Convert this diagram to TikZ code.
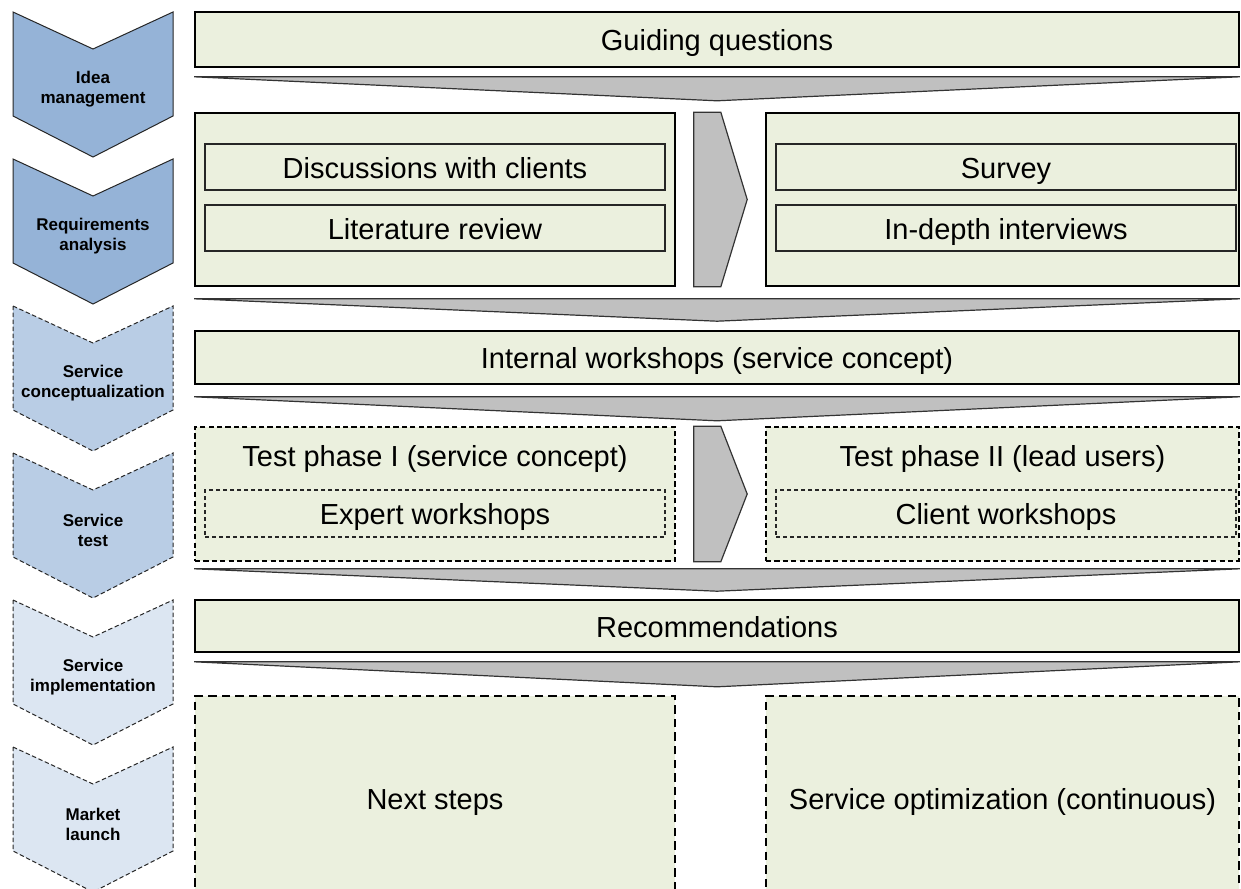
\documentclass[tikz,border=0pt]{standalone}
\usepackage{fontspec}
\setmainfont{Liberation Sans}
\definecolor{phaseA}{RGB}{149,179,215}
\definecolor{phaseB}{RGB}{185,205,229}
\definecolor{phaseC}{RGB}{220,230,242}
\definecolor{boxfill}{RGB}{235,240,222}
\definecolor{arrowgray}{RGB}{192,192,192}
\begin{document}
\begin{tikzpicture}[x=0.5pt,y=-0.5pt,
  box/.style={draw=black,line width=0.8pt,fill=boxfill,inner sep=0pt,text height=12pt,text depth=1pt,font=\fontsize{14.5}{17}\selectfont},
  inbox/.style={draw=black!85,line width=0.55pt,fill=boxfill,inner sep=0pt,minimum width=230pt,minimum height=23pt,text height=12pt,text depth=1pt,font=\fontsize{14.5}{17}\selectfont},
  title/.style={inner sep=1pt,text height=12pt,text depth=1pt,font=\fontsize{14.5}{17}\selectfont},
  phase/.style={draw=black!85,line width=0.5pt},
  phaselab/.style={align=center,inner sep=0pt,font=\fontsize{8.5}{10}\selectfont\bfseries},
  funnel/.style={draw=black!80,line width=0.6pt,fill=arrowgray,line join=miter},
  dashA/.style={dash pattern=on 2.2pt off 1.3pt},
  dashB/.style={dash pattern=on 2.6pt off 1.6pt},
  dashC/.style={dash pattern=on 4.2pt off 2.6pt}]
\clip (0,0) rectangle (1241,888);
% --- phases on the left ---
\foreach \i/\col/\pat/\txt in {0/phaseA/solid/{Idea\\management},
    1/phaseA/solid/{Requirements\\analysis},
    2/phaseB/dashA/{Service\\conceptualization},
    3/phaseB/dashA/{Service\\test},
    4/phaseC/dashA/{Service\\implementation},
    5/phaseC/dashA/{Market\\launch}}{
  \pgfmathsetmacro\ty{12+147*\i}
  \draw[phase,fill=\col,\pat] (13,\ty) -- (93,\ty+37) -- (173,\ty) -- (173,\ty+104)
    -- (93,\ty+145) -- (13,\ty+104) -- cycle;
  \node[phaselab] (ph\i) at (93,\ty+77) {\txt};
}
% --- boxes ---
\node[box,minimum width=522pt,minimum height=27.5pt] (guide) at (717,39.5) {Guiding questions};
\node[box,minimum width=240pt,minimum height=86.5pt] (reqL) at (435,199.5) {};
\node[inbox] (disc) at (435,167) {Discussions with clients};
\node[inbox] (lit) at (435,228) {Literature review};
\node[box,minimum width=236.5pt,minimum height=86.5pt] (reqR) at (1002.5,199.5) {};
\node[inbox] (survey) at (1006,167) {Survey};
\node[inbox] (interv) at (1006,228) {In-depth interviews};
\node[box,minimum width=522pt,minimum height=26.5pt] (intern) at (717,357.5) {Internal workshops (service concept)};
\node[box,dashB,minimum width=240pt,minimum height=67pt] (testL) at (435,494) {};
\node[title] (testLt) at (435,455) {Test phase I (service concept)};
\node[inbox,dashA,minimum height=23.5pt] (expert) at (435,513.5) {Expert workshops};
\node[box,dashB,minimum width=236.5pt,minimum height=67pt] (testR) at (1002.5,494) {};
\node[title] (testRt) at (1002.5,455) {Test phase II (lead users)};
\node[inbox,dashA,minimum height=23.5pt] (client) at (1006,513.5) {Client workshops};
\node[box,minimum width=522pt,minimum height=26pt] (recom) at (717,626) {Recommendations};
\node[box,dashC,minimum width=240pt,minimum height=102pt] (next) at (435,798) {Next steps};
\node[box,dashC,minimum width=236.5pt,minimum height=102pt] (optim) at (1002.5,798) {Service optimization (continuous)};
% --- funnels between rows ---
\draw[funnel] ([yshift=-4.5pt]guide.south west) -- ([yshift=-4.5pt]guide.south east)
  -- ([yshift=-16.5pt]guide.south) -- cycle;
\draw[funnel] ([yshift=-6pt]reqL.south west) -- ([yshift=-6pt]reqR.south east)
  -- ([yshift=4.5pt]intern.north) -- cycle;
\draw[funnel] ([yshift=-6pt]intern.south west) -- ([yshift=-6pt]intern.south east)
  -- ([yshift=-18pt]intern.south) -- cycle;
\draw[funnel] ([yshift=-3.5pt]testL.south west) -- ([yshift=-3.5pt]testR.south east)
  -- ([yshift=4pt]recom.north) -- cycle;
\draw[funnel] ([yshift=-4.5pt]recom.south west) -- ([yshift=-4.5pt]recom.south east)
  -- ([yshift=-17pt]recom.south) -- cycle;
% --- arrows between left and right boxes ---
\draw[funnel] ([xshift=9pt]reqL.north east) -- ([xshift=22.5pt]reqL.north east)
  -- ([xshift=-9pt]reqR.west) -- ([xshift=22.5pt]reqL.south east)
  -- ([xshift=9pt]reqL.south east) -- cycle;
\draw[funnel] ([xshift=9pt]testL.north east) -- ([xshift=22.5pt]testL.north east)
  -- ([xshift=-9pt]testR.west) -- ([xshift=22.5pt]testL.south east)
  -- ([xshift=9pt]testL.south east) -- cycle;
\end{tikzpicture}
\end{document}
